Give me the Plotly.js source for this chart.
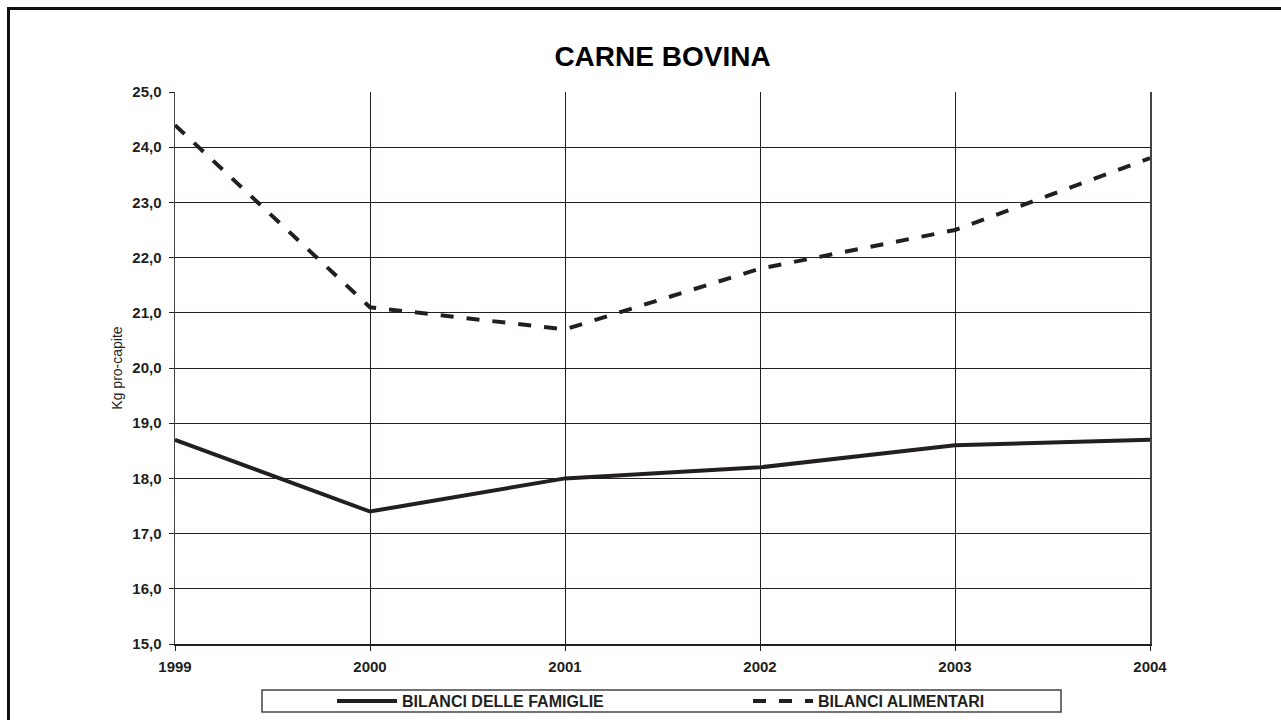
<!DOCTYPE html>
<html>
<head>
<meta charset="utf-8">
<script src="https://cdn.plot.ly/plotly-3.0.1.min.js"></script>
<style>
  html, body { margin:0; padding:0; background:#fff; overflow:hidden; }
  #chart { position:absolute; left:0; top:0; width:1281px; height:720px; }
  #frame { position:absolute; left:7px; top:7px; width:1300px; height:740px; border:3px solid #111; pointer-events:none; }
</style>
</head>
<body>
<div id="chart"></div>
<div id="frame"></div>
<script>
const years = ['1999', '2000', '2001', '2002', '2003', '2004'];
const famiglie = [18.7, 17.4, 18.0, 18.2, 18.6, 18.7];
const alimentari = [24.4, 21.1, 20.7, 21.8, 22.5, 23.8];
const yTicks = [15, 16, 17, 18, 19, 20, 21, 22, 23, 24, 25];

const ink = '#231f20';
const FONT = 'Liberation Sans, Arial, sans-serif';

const traces = [
  {
    x: years, y: famiglie, type: 'scatter', mode: 'lines',
    name: '<b>BILANCI DELLE FAMIGLIE</b>',
    line: { color: ink, width: 4 }
  },
  {
    x: years, y: alimentari, type: 'scatter', mode: 'lines',
    name: '<b>BILANCI ALIMENTARI</b>',
    line: { color: ink, width: 4, dash: '13px,13px' }
  }
];

const layout = {
  width: 1281, height: 720,
  margin: { l: 175, r: 131, t: 92, b: 76, pad: 0, autoexpand: false },
  paper_bgcolor: '#fff', plot_bgcolor: '#fff',
  separators: ',.',
  font: { family: FONT, color: ink },
  title: {
    text: '<b>CARNE BOVINA</b>',
    font: { family: FONT, size: 28, color: '#000' },
    x: 0.5, xref: 'paper', xanchor: 'center',
    y: 1 - 56 / 720, yref: 'container', yanchor: 'middle'
  },
  xaxis: {
    type: 'category',
    range: [0, years.length - 1],
    showgrid: true, gridcolor: ink, gridwidth: 1,
    showline: true, linecolor: ink, linewidth: 1.5,
    ticks: 'outside', ticklen: 5, tickcolor: ink, tickwidth: 1,
    ticklabelstandoff: 3,
    tickfont: { family: FONT, size: 15, color: ink, weight: 'bold' },
    zeroline: false, fixedrange: true
  },
  yaxis: {
    range: [15, 25],
    tickvals: yTicks,
    tickformat: '.1f',
    showgrid: true, gridcolor: ink, gridwidth: 1,
    showline: true, linecolor: '#444', linewidth: 1.5, mirror: true,
    ticks: 'outside', ticklen: 5, tickcolor: ink, tickwidth: 1,
    ticklabelstandoff: 4,
    tickfont: { family: FONT, size: 15, color: ink, weight: 'bold' },
    title: { text: 'Kg pro-capite', font: { family: FONT, size: 14, color: ink }, standoff: 6 },
    zeroline: false, fixedrange: true
  },
  showlegend: true,
  legend: {
    orientation: 'h',
    x: (332 - 175) / 975, xanchor: 'left',
    y: -(701 - 644) / 552, yanchor: 'middle',
    bgcolor: 'rgba(0,0,0,0)', borderwidth: 0,
    font: { family: FONT, size: 16, color: ink },
    itemwidth: 60,
    entrywidth: 341, entrywidthmode: 'pixels',
    tracegroupgap: 0
  },
  shapes: [
    {
      type: 'rect', xref: 'paper', yref: 'paper',
      x0: (262 - 175) / 975, x1: (1061 - 175) / 975,
      y0: -(712 - 644) / 552, y1: -(690 - 644) / 552,
      line: { color: '#444', width: 1.5 }, fillcolor: 'rgba(0,0,0,0)', layer: 'above'
    }
  ]
};

Plotly.newPlot('chart', traces, layout, { displayModeBar: false, staticPlot: true });
</script>
</body>
</html>
